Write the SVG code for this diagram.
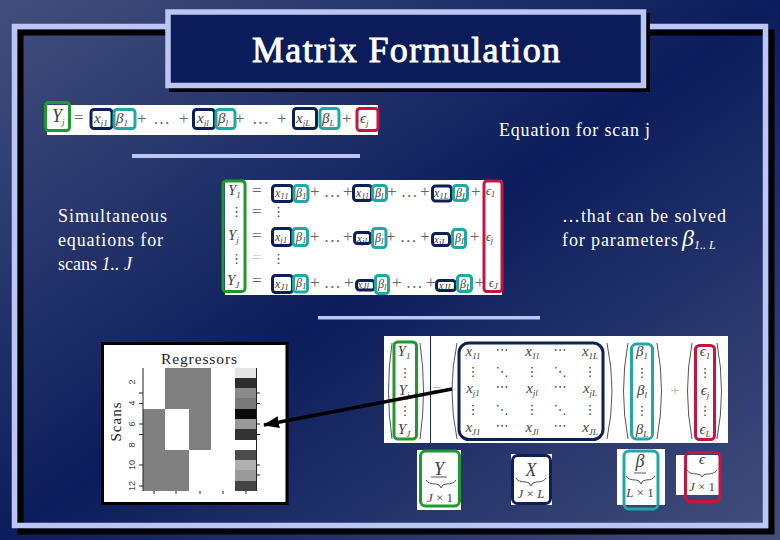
<svg xmlns="http://www.w3.org/2000/svg" width="780" height="540" viewBox="0 0 780 540">
<style>
.w{fill:#fff}
.t{font-family:"Liberation Serif","Times New Roman",serif;font-size:18px;fill:#fff}
.m{font-family:"Liberation Serif","DejaVu Sans",serif;font-size:15px;fill:#444}
.i{font-style:italic}
.s{font-size:9px}
.d{font-family:"DejaVu Sans",sans-serif;font-size:13px;fill:#444}
.o{font-size:17px;fill:#666}
.mid{text-anchor:middle}
.g,.n,.c,.r{fill:none;stroke-width:3}
.g{stroke:#1e9a2c}.n{stroke:#0c1f56}.c{stroke:#1fa8a4}.r{stroke:#c8143f}
.p{fill:none;stroke:#555;stroke-width:1}
.rule{fill:#bcc6f4}
.tk{stroke:#222;stroke-width:1}
.ax{font-family:"Liberation Sans",sans-serif;font-size:9px;fill:#444;text-anchor:middle}
</style>
<defs>
<linearGradient id="bg" x1="0" y1="0" x2="1" y2="1">
<stop offset="0" stop-color="#434f7c"/><stop offset="0.5" stop-color="#0b1d5c"/><stop offset="1" stop-color="#434f7c"/>
</linearGradient>
<marker id="ah" markerUnits="userSpaceOnUse" markerWidth="16" markerHeight="12" refX="15" refY="6" orient="auto"><path d="M0 0L16 6L0 12Z" fill="#000"/></marker>
</defs>
<rect width="780" height="540" fill="url(#bg)"/>

<g id="frame">
<rect x="20.5" y="32.5" width="751" height="499" fill="none" stroke="#000" stroke-width="6"/>
<rect x="14.5" y="26.5" width="751" height="499" fill="none" stroke="#bcc6f4" stroke-width="5.5"/>
</g>

<g id="title">
<rect x="169" y="13" width="481" height="79" fill="#000"/>
<rect x="168" y="12" width="475.500" height="73.500" fill="#0a1c5a" stroke="#bcc6f4" stroke-width="5.500"/>
<text x="406" y="62" text-anchor="middle" font-family="Liberation Serif" font-size="36" fill="#fff" stroke="#fff" stroke-width="0.9" textLength="308">Matrix Formulation</text>
</g>

<g id="equation-scan">
<rect x="47" y="105" width="331" height="30" class="w"/>
<text class="m i" x="52" y="122" style="font-size:18px">Y<tspan class="s" dy="3">j</tspan></text>
<text class="m o" x="74" y="123">=</text>
<text class="m i" x="94" y="123">x<tspan class="s" dy="3">j1</tspan></text>
<text class="m i" x="116" y="123">β<tspan class="s" dy="3">1</tspan></text>
<text class="m o" x="137" y="124">+</text><text class="m o" x="153" y="124">…</text><text class="m o" x="179" y="124">+</text>
<text class="m i" x="197" y="123">x<tspan class="s" dy="3">jl</tspan></text>
<text class="m i" x="218" y="123">β<tspan class="s" dy="3">l</tspan></text>
<text class="m o" x="235" y="124">+</text><text class="m o" x="252" y="124">…</text><text class="m o" x="277" y="124">+</text>
<text class="m i" x="296" y="123">x<tspan class="s" dy="3">jL</tspan></text>
<text class="m i" x="322" y="123">β<tspan class="s" dy="3">L</tspan></text>
<text class="m o" x="342" y="124">+</text>
<text class="m i" x="360" y="123">ϵ<tspan class="s" dy="3">j</tspan></text>
<rect class="g" x="45.500" y="102.500" width="24" height="28" rx="3"/>
<rect class="n" x="91" y="109.500" width="21" height="19" rx="3"/>
<rect class="c" x="114" y="109.500" width="21" height="19" rx="3"/>
<rect class="n" x="193.500" y="109.500" width="21" height="19" rx="3"/>
<rect class="c" x="216" y="109.500" width="19" height="19" rx="3"/>
<rect class="n" x="293.500" y="108.500" width="23" height="20" rx="3"/>
<rect class="c" x="320" y="108.500" width="19" height="20" rx="3"/>
<rect class="r" x="357" y="108.500" width="21" height="22" rx="3"/>
</g>

<g id="label-scan"><text class="t" x="499" y="136" textLength="151">Equation for scan j</text></g>
<rect class="rule" x="132" y="154" width="228" height="4"/>

<g id="label-simultaneous">
<text class="t" x="58" y="222" textLength="109">Simultaneous</text>
<text class="t" x="58" y="246" textLength="105">equations for</text>
<text class="t" x="58" y="270">scans <tspan class="i">1.. J</tspan></text>
</g>

<g id="label-solved">
<text class="t" x="562" y="222" textLength="164">…that can be solved</text>
<text class="t" x="562" y="246" textLength="116">for parameters</text>
<text class="t i" x="682" y="246" style="font-size:24px">β<tspan dy="3" style="font-size:12px">1.. L</tspan></text>
</g>

<g id="equations-system">
<rect x="225" y="180" width="277" height="115" class="w"/>
<text class="m i" x="228" y="195">Y<tspan class="s" dy="3">1</tspan></text>
<text class="d" x="230" y="216">⋮</text>
<text class="m i" x="228" y="240">Y<tspan class="s" dy="3">j</tspan></text>
<text class="d" x="230" y="263">⋮</text>
<text class="m i" x="227" y="285">Y<tspan class="s" dy="3">J</tspan></text>
<text class="m o" x="252" y="196">=</text><text class="m o" x="252" y="217">=</text><text class="m o" x="252" y="241">=</text><text class="m o" x="252" y="263" style="fill:#ccc">=</text><text class="m o" x="252" y="286">=</text>
<text class="d" x="272" y="216">⋮</text><text class="d" x="272" y="263">⋮</text>
<g class="row1">
<text class="m i" x="275" y="197" style="font-size:12px">x<tspan class="s" dy="2">11</tspan></text><text class="m i" x="296" y="197" style="font-size:12px">β<tspan class="s" dy="2">1</tspan></text>
<text class="m o" x="310" y="197">+ …</text><text class="m o" x="343" y="197">+</text>
<text class="m i" x="356" y="197" style="font-size:12px">x<tspan class="s" dy="2">1l</tspan></text><text class="m i" x="375" y="197" style="font-size:12px">β<tspan class="s" dy="2">l</tspan></text>
<text class="m o" x="387" y="197">+ …</text><text class="m o" x="420" y="197">+</text>
<text class="m i" x="434" y="197" style="font-size:12px">x<tspan class="s" dy="2">1L</tspan></text><text class="m i" x="456" y="197" style="font-size:12px">β<tspan class="s" dy="2">L</tspan></text>
<text class="m o" x="471" y="197">+</text><text class="m i" x="486" y="195" style="font-size:12px">ϵ<tspan class="s" dy="2">1</tspan></text>
</g>
<g class="row3">
<text class="m i" x="275" y="241" style="font-size:12px">x<tspan class="s" dy="2">j1</tspan></text><text class="m i" x="296" y="241" style="font-size:12px">β<tspan class="s" dy="2">1</tspan></text>
<text class="m o" x="310" y="242">+ …</text><text class="m o" x="343" y="242">+</text>
<text class="m i" x="357" y="242" style="font-size:11px">x<tspan class="s" dy="2">jl</tspan></text><text class="m i" x="375" y="242" style="font-size:12px">β<tspan class="s" dy="2">l</tspan></text>
<text class="m o" x="386" y="242">+ …</text><text class="m o" x="420" y="242">+</text>
<text class="m i" x="434" y="243" style="font-size:11px">x<tspan class="s" dy="2">jL</tspan></text><text class="m i" x="455" y="242" style="font-size:12px">β<tspan class="s" dy="2">L</tspan></text>
<text class="m o" x="470" y="242">+</text><text class="m i" x="486" y="241" style="font-size:12px">ϵ<tspan class="s" dy="2">j</tspan></text>
</g>
<g class="row5">
<text class="m i" x="275" y="288" style="font-size:12px">x<tspan class="s" dy="2">J1</tspan></text><text class="m i" x="296" y="287" style="font-size:12px">β<tspan class="s" dy="2">1</tspan></text>
<text class="m o" x="310" y="288">+ …</text><text class="m o" x="344" y="288">+</text>
<text class="m i" x="358" y="288" style="font-size:10px">x<tspan class="s" dy="1">Jl</tspan></text><text class="m i" x="378" y="288" style="font-size:12px">β<tspan class="s" dy="2">l</tspan></text>
<text class="m o" x="392" y="288">+ …</text><text class="m o" x="426" y="288">+</text>
<text class="m i" x="439" y="289" style="font-size:10px">x<tspan class="s" dy="1">JL</tspan></text><text class="m i" x="460" y="288" style="font-size:12px">β<tspan class="s" dy="2">L</tspan></text>
<text class="m o" x="475" y="288">+</text><text class="m i" x="489" y="287" style="font-size:12px">ϵ<tspan class="s" dy="2">J</tspan></text>
</g>
<rect class="g" x="223" y="181" width="22" height="110.500" rx="3"/>
<rect class="r" x="484" y="181" width="18" height="110.500" rx="3"/>
<rect class="n" x="272.500" y="185.500" width="20" height="16" rx="3"/><rect class="c" x="294" y="185.500" width="14" height="16" rx="3"/>
<rect class="n" x="353.500" y="185.500" width="18" height="15" rx="3"/><rect class="c" x="372.500" y="185.500" width="14" height="15" rx="3"/>
<rect class="n" x="432.500" y="186" width="19" height="15" rx="3"/><rect class="c" x="453.500" y="185.500" width="14" height="15" rx="3"/>
<rect class="n" x="272.500" y="228.500" width="19" height="17" rx="3"/><rect class="c" x="293" y="228.500" width="14.500" height="17" rx="3"/>
<rect class="n" x="354.500" y="232.500" width="16" height="11" rx="3"/><rect class="c" x="372.500" y="228.500" width="13.500" height="19" rx="3"/>
<rect class="n" x="432.500" y="233.500" width="17" height="12" rx="3"/><rect class="c" x="452.500" y="229.500" width="13" height="18" rx="3"/>
<rect class="n" x="272.500" y="275.500" width="20" height="17" rx="3"/><rect class="c" x="293.500" y="275.500" width="14" height="16.500" rx="3"/>
<rect class="n" x="356.500" y="280.500" width="18" height="9.500" rx="3"/><rect class="c" x="375.500" y="275.500" width="13" height="18" rx="3"/>
<rect class="n" x="436.500" y="280.500" width="19" height="10" rx="3"/><rect class="c" x="457.500" y="275.500" width="14" height="16" rx="3"/>
</g>
<rect class="rule" x="318" y="316" width="222" height="3.500"/>

<g id="design-matrix">
<rect x="102.500" y="343.500" width="184.500" height="160" fill="#fff" stroke="#000" stroke-width="3"/>
<text x="199" y="364" text-anchor="middle" font-family="Liberation Serif" font-size="15.500" fill="#222" textLength="76">Regressors</text>
<text transform="translate(121 422) rotate(-90)" text-anchor="middle" font-family="Liberation Serif" font-size="15" fill="#222" textLength="39">Scans</text>
<rect x="143" y="409" width="22" height="82" fill="#808080"/>
<rect x="165" y="368" width="24" height="41" fill="#808080"/>
<rect x="165" y="450" width="24" height="41" fill="#808080"/>
<rect x="189" y="368" width="22" height="82" fill="#808080"/>
<rect x="235" y="368" width="21" height="10" fill="#e6e6e6"/>
<rect x="235" y="378" width="21" height="10" fill="#2e2e2e"/>
<rect x="235" y="388" width="21" height="10" fill="#8a8a8a"/>
<rect x="235" y="398" width="21" height="11" fill="#787878"/>
<rect x="235" y="409" width="21" height="10" fill="#0a0a0a"/>
<rect x="235" y="419" width="21" height="10" fill="#999"/>
<rect x="235" y="429" width="21" height="11" fill="#333"/>
<rect x="235" y="450" width="21" height="10" fill="#4c4c4c"/>
<rect x="235" y="460" width="21" height="10" fill="#b0b0b0"/>
<rect x="235" y="470" width="21" height="11" fill="#9a9a9a"/>
<rect x="235" y="481" width="21" height="10" fill="#444"/>
<path class="tk" d="M143 368V491M256.500 368V491M139 393H143M139 403.500H143M139 424H143M139 434.500H143M139 465H143M139 486H143M256 393H260M256 403.500H260M256 424H260M256 434.500H260M256 465H260M256 475H260M154 491V494M176 491V494M200 491V494M223 491V494M246 491V494"/>
<text class="ax" transform="translate(135 382) rotate(-90)">2</text>
<text class="ax" transform="translate(135 403) rotate(-90)">4</text>
<text class="ax" transform="translate(135 424) rotate(-90)">6</text>
<text class="ax" transform="translate(135 445) rotate(-90)">8</text>
<text class="ax" transform="translate(135 465) rotate(-90)">10</text>
<text class="ax" transform="translate(135 486) rotate(-90)">12</text>
</g>

<g id="matrix-equation">
<rect x="384" y="336" width="46" height="107" class="w"/>
<rect x="431" y="336" width="297" height="107" class="w"/>
<path class="p" d="M392 343Q385 391 392 439M420 343Q427 391 420 439M457 343Q447 391 457 439M607 343Q617 391 607 439M628 343Q619 391 628 439M657 343Q666 391 657 439M692 343Q683 391 692 439M717 343Q726 391 717 439"/>
<g class="mid">
<text class="m i" x="404" y="356">Y<tspan class="s" dy="3">1</tspan></text><text class="d" x="405" y="377">⋮</text>
<text class="m i" x="404" y="395">Y<tspan class="s" dy="3">j</tspan></text><text class="d" x="405" y="415">⋮</text>
<text class="m i" x="404" y="434">Y<tspan class="s" dy="3">J</tspan></text>
<text class="m o" x="437" y="395" style="fill:#aaa">=</text>
<text class="m i" x="473" y="356">x<tspan class="s" dy="3">11</tspan></text><text class="d" x="502" y="354">⋯</text><text class="m i" x="532" y="356">x<tspan class="s" dy="3">1l</tspan></text><text class="d" x="560" y="354">⋯</text><text class="m i" x="590" y="356">x<tspan class="s" dy="3">1L</tspan></text>
<text class="d" x="473" y="376">⋮</text><text class="d" x="502" y="376">⋱</text><text class="d" x="532" y="376">⋮</text><text class="d" x="560" y="376">⋱</text><text class="d" x="590" y="376">⋮</text>
<text class="m i" x="473" y="393">x<tspan class="s" dy="3">j1</tspan></text><text class="d" x="502" y="391">⋯</text><text class="m i" x="532" y="393">x<tspan class="s" dy="3">jl</tspan></text><text class="d" x="560" y="391">⋯</text><text class="m i" x="590" y="393">x<tspan class="s" dy="3">jL</tspan></text>
<text class="d" x="473" y="414">⋮</text><text class="d" x="502" y="414">⋱</text><text class="d" x="532" y="414">⋮</text><text class="d" x="560" y="414">⋱</text><text class="d" x="590" y="414">⋮</text>
<text class="m i" x="473" y="432">x<tspan class="s" dy="3">J1</tspan></text><text class="d" x="502" y="430">⋯</text><text class="m i" x="532" y="432">x<tspan class="s" dy="3">Jl</tspan></text><text class="d" x="560" y="430">⋯</text><text class="m i" x="590" y="432">x<tspan class="s" dy="3">JL</tspan></text>
<text class="m i" x="642" y="356">β<tspan class="s" dy="3">1</tspan></text><text class="d" x="642" y="377">⋮</text><text class="m i" x="642" y="395">β<tspan class="s" dy="3">l</tspan></text><text class="d" x="642" y="415">⋮</text><text class="m i" x="642" y="434">β<tspan class="s" dy="3">L</tspan></text>
<text class="m o" x="675" y="396" style="fill:#bbb">+</text>
<text class="m i" x="705" y="356">ϵ<tspan class="s" dy="3">1</tspan></text><text class="d" x="705" y="377">⋮</text><text class="m i" x="705" y="395">ϵ<tspan class="s" dy="3">j</tspan></text><text class="d" x="705" y="415">⋮</text><text class="m i" x="705" y="434">ϵ<tspan class="s" dy="3">L</tspan></text>
</g>
<rect class="g" x="394" y="342" width="22.500" height="97" rx="4"/>
<rect class="n" x="459" y="343" width="144" height="96.500" rx="10"/>
<rect class="c" x="631.500" y="344" width="21" height="95" rx="5"/>
<rect class="r" x="695.500" y="345.500" width="19" height="94" rx="4"/>
</g>

<g id="dim-y">
<rect x="417" y="450" width="44" height="60" class="w"/>
<text class="m i mid" x="439" y="475" style="font-size:18px">Y</text>
<path class="p" d="M426 480Q428 484 436 484Q440 484 441 488Q442 484 446 484Q454 484 456 480M431 477H447"/>
<text class="m mid" x="440" y="502" style="font-size:13px"><tspan class="i">J</tspan> × 1</text>
<rect class="g" x="420.500" y="451" width="39" height="55" rx="5"/>
</g>
<g id="dim-x">
<rect x="511" y="454" width="41" height="51" class="w"/>
<text class="m i mid" x="531" y="476" style="font-size:18px">X</text>
<path class="p" d="M516 478Q518 482 526 482Q530 482 531 486Q532 482 536 482Q544 482 546 478"/>
<text class="m mid" x="531" y="498" style="font-size:13px"><tspan class="i">J</tspan> × <tspan class="i">L</tspan></text>
<rect class="n" x="512.500" y="455.500" width="38" height="48" rx="5"/>
</g>
<g id="dim-beta">
<rect x="617" y="449" width="48" height="56" class="w"/>
<text class="m i mid" x="640" y="467" style="font-size:18px">β</text>
<path class="p" d="M626 476Q628 480 636 480Q640 480 641 484Q642 480 646 480Q653 480 655 476M634 473H646"/>
<text class="m mid" x="640" y="497" style="font-size:13px"><tspan class="i">L</tspan> × 1</text>
<rect class="c" x="624" y="451" width="34" height="58" rx="5"/>
</g>
<g id="dim-epsilon">
<rect x="676" y="455" width="44" height="40" class="w"/>
<text class="m i mid" x="702" y="464" style="font-size:15px">ϵ</text>
<path class="p" d="M687 470Q689 474 697 474Q701 474 702 477Q703 474 707 474Q715 474 717 470"/>
<text class="m mid" x="702" y="491" style="font-size:13px"><tspan class="i">J</tspan> × 1</text>
<rect class="r" x="685.500" y="452.500" width="34.500" height="49" rx="5"/>
</g>

<g id="connectors">
<line x1="452" y1="389" x2="264" y2="425" stroke="#000" stroke-width="3.500" marker-end="url(#ah)"/>
</g>
</svg>
